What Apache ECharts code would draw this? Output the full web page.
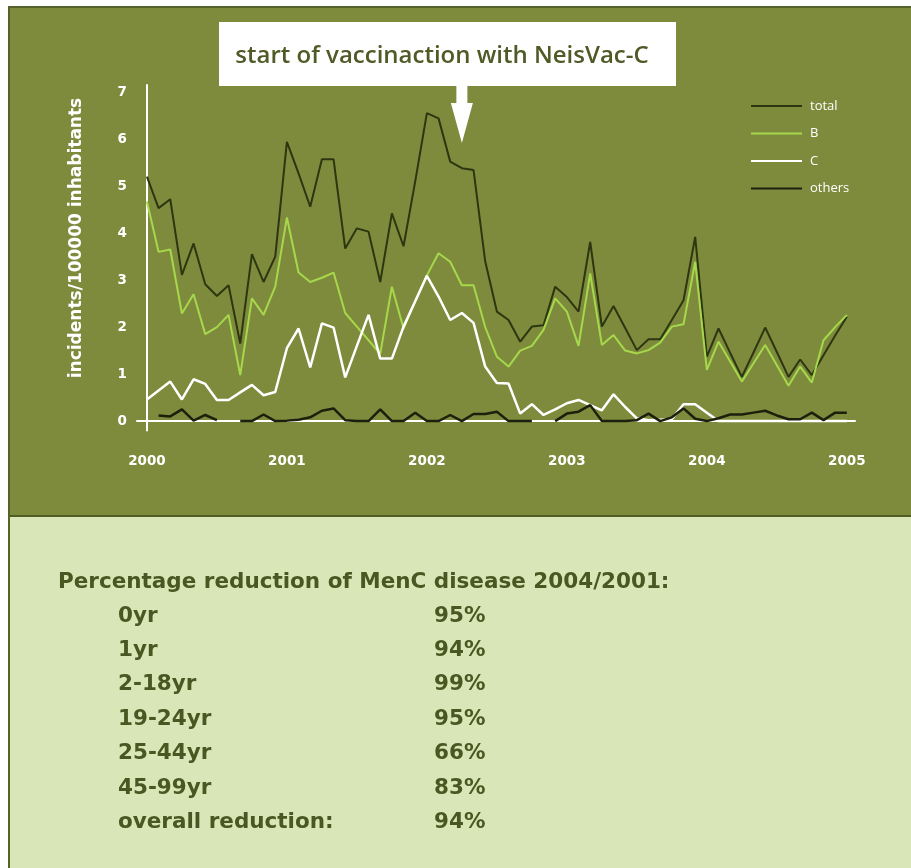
<!DOCTYPE html>
<html><head><meta charset="utf-8">
<script src="https://cdn.jsdelivr.net/npm/echarts/dist/echarts.min.js"></script>
<style>html,body{margin:0;padding:0;background:#fff}#c{width:911px;height:868px}</style>
</head><body><div id="c"></div><script>
// ---- data ----
const yearLabels = ['2000','2001','2002','2003','2004','2005'];
const yearTickMonths = [0,12,24,36,48,60];
const yTicks = [0,1,2,3,4,5,6,7];
const legendNames = ['total','B','C','others'];
const total = [5.20,4.53,4.72,3.11,3.78,2.91,2.66,2.89,1.65,3.55,2.96,3.50,
  5.94,5.27,4.56,5.57,5.57,3.67,4.10,4.03,2.96,4.42,3.72,5.10,
  6.55,6.44,5.52,5.38,5.34,3.40,2.33,2.15,1.69,2.01,2.04,2.86,
  2.64,2.33,3.81,2.01,2.45,1.98,1.51,1.74,1.74,2.15,2.57,3.92,
  1.37,1.97,1.45,0.94,1.46,1.99,1.47,0.94,1.31,0.98,1.40,1.82,2.22];
const seroB = [4.67,3.60,3.65,2.29,2.70,1.85,2.00,2.26,0.98,2.61,2.26,2.86,
  4.33,3.16,2.96,3.05,3.16,2.30,2.01,1.72,1.43,2.86,1.97,2.55,
  3.10,3.57,3.39,2.89,2.89,2.00,1.37,1.16,1.50,1.60,1.94,2.61,
  2.33,1.60,3.14,1.62,1.83,1.50,1.44,1.51,1.67,2.01,2.06,3.39,
  1.09,1.69,1.27,0.84,1.23,1.62,1.19,0.75,1.16,0.82,1.72,2.00,2.26];
const seroC = [0.46,0.65,0.84,0.46,0.89,0.79,0.45,0.45,0.61,0.77,0.55,0.62,
  1.55,1.97,1.14,2.08,1.99,0.93,1.60,2.26,1.33,1.33,2.01,2.55,
  3.09,2.65,2.15,2.30,2.09,1.16,0.81,0.80,0.16,0.36,0.13,0.25,
  0.38,0.45,0.34,0.23,0.57,0.30,0.06,0.02,0.03,0.04,0.36,0.36,
  0.18,0,0,0,0,0,0,0,0,0,0,0,0];
const others = [null,0.12,0.10,0.25,0.01,0.13,0.02,null,0,0,0.14,0,
  0.01,0.03,0.08,0.22,0.27,0.02,0,0,0.25,0,0,0.18,
  0,0,0.13,0,0.15,0.15,0.20,0,0,0,null,0,
  0.16,0.20,0.34,0,0,0,0.02,0.16,0,0.08,0.27,0.05,
  0,0.06,0.14,0.14,0.18,0.22,0.12,0.04,0.04,0.18,0.02,0.18,0.18];
const vaccinationStartMonth = 27;
const annotationText = 'start of vaccinaction with NeisVac-C';
const yAxisTitle = 'incidents/100000 inhabitants';
const tableTitle = 'Percentage reduction of MenC disease 2004/2001:';
const ageGroups = ['0yr','1yr','2-18yr','19-24yr','25-44yr','45-99yr','overall reduction:'];
const reductions = ['95%','94%','99%','95%','66%','83%','94%'];

// ---- chart ----
const FONT = '"Open Sans", sans-serif';
const WIDE = '"DejaVu Sans", sans-serif';
const GREEN = '#7e8b3c';
const BORDER = '#55632a';
const TXT = '#4b5722';
const chart = echarts.init(document.getElementById('c'));
const toPairs = arr => arr.map((v, i) => [i, v]);
const seriesColors = ['#2c3610', '#a6d84c', '#ffffff', '#1b200c'];
const seriesWidths = [2, 2, 2.5, 2.5];
const seriesData = [total, seroB, seroC, others];

chart.setOption({
  backgroundColor: GREEN,
  animation: false,
  textStyle: { fontFamily: FONT },
  grid: { left: 137, right: 56, top: 85, bottom: 437.5 },
  xAxis: {
    type: 'value', min: -0.85, max: 60.7,
    axisLine: { show: true, onZero: true, lineStyle: { color: '#ffffff', width: 2 } },
    axisTick: { show: false }, splitLine: { show: false },
    axisLabel: {
      customValues: yearTickMonths,
      formatter: v => yearLabels[yearTickMonths.indexOf(v)] || '',
      color: '#ffffff', fontWeight: 'bold', fontSize: 13.5, margin: 24, fontFamily: WIDE
    }
  },
  yAxis: {
    type: 'value', min: -0.2, max: 7.15,
    axisLine: { show: true, onZero: true, lineStyle: { color: '#ffffff', width: 2 } },
    axisTick: { show: false }, splitLine: { show: false },
    axisLabel: {
      customValues: yTicks,
      color: '#ffffff', fontWeight: 'bold', fontSize: 13.5, margin: 10, fontFamily: WIDE
    }
  },
  legend: {
    orient: 'vertical', left: 751, top: 97, padding: 0,
    icon: 'rect', itemWidth: 51, itemHeight: 2, itemGap: 9.5,
    data: legendNames,
    textStyle: { color: '#ffffff', fontSize: 13, fontFamily: FONT, padding: [0, 0, 0, 3], lineHeight: 18 }
  },
  series: legendNames.map((n, k) => ({
    name: n, type: 'line', symbol: 'none',
    data: toPairs(seriesData[k]),
    lineStyle: { color: seriesColors[k], width: seriesWidths[k] },
    itemStyle: { color: seriesColors[k] },
    z: 2 + k
  }))
});

const ax = chart.convertToPixel({ xAxisIndex: 0 }, vaccinationStartMonth);
const rowY0 = 616, rowStep = 34.4;
const TFONT = 'bold 21.5px ' + WIDE;
const graphics = [
  { type: 'rect', shape: { x: 0, y: 0, width: 911, height: 6 }, style: { fill: '#ffffff' }, z: 100 },
  { type: 'rect', shape: { x: 0, y: 0, width: 8, height: 868 }, style: { fill: '#ffffff' }, z: 100 },
  { type: 'line', shape: { x1: 8, y1: 7, x2: 911, y2: 7 }, style: { stroke: BORDER, lineWidth: 2 }, z: 101 },
  { type: 'rect', shape: { x: 8, y: 516, width: 903, height: 352 }, style: { fill: '#d9e6b7' }, z: 100 },
  { type: 'line', shape: { x1: 8, y1: 516, x2: 911, y2: 516 }, style: { stroke: '#4f5e22', lineWidth: 2 }, z: 101 },
  { type: 'line', shape: { x1: 9, y1: 6, x2: 9, y2: 868 }, style: { stroke: BORDER, lineWidth: 2 }, z: 101 },
  // annotation box + arrow
  { type: 'rect', shape: { x: 219, y: 22, width: 457, height: 64 }, style: { fill: '#ffffff' }, z: 100 },
  { type: 'text', x: 442, y: 56, style: { text: annotationText, fill: '#4f5a26', font: '600 24px ' + FONT, align: 'center', verticalAlign: 'middle' }, z: 101 },
  { type: 'polygon', shape: { points: [[ax - 5.5, 85], [ax + 5.5, 85], [ax + 5.5, 103], [ax + 11, 103], [ax, 143], [ax - 11, 103], [ax - 5.5, 103]] }, style: { fill: '#ffffff' }, z: 100 },
  // y axis title
  { type: 'text', x: 77, y: 238, rotation: Math.PI / 2, style: { text: yAxisTitle, fill: '#ffffff', font: 'bold 17px ' + WIDE, align: 'center', verticalAlign: 'middle' }, z: 100 },
  // table
  { type: 'text', x: 58, y: 582, style: { text: tableTitle, fill: TXT, font: TFONT, verticalAlign: 'middle' }, z: 102 }
];
ageGroups.forEach((g, i) => {
  graphics.push({ type: 'text', x: 118, y: rowY0 + i * rowStep, style: { text: g, fill: TXT, font: TFONT, verticalAlign: 'middle' }, z: 102 });
  graphics.push({ type: 'text', x: 434, y: rowY0 + i * rowStep, style: { text: reductions[i], fill: TXT, font: TFONT, verticalAlign: 'middle' }, z: 102 });
});
chart.setOption({ graphic: graphics });
</script></body></html>
